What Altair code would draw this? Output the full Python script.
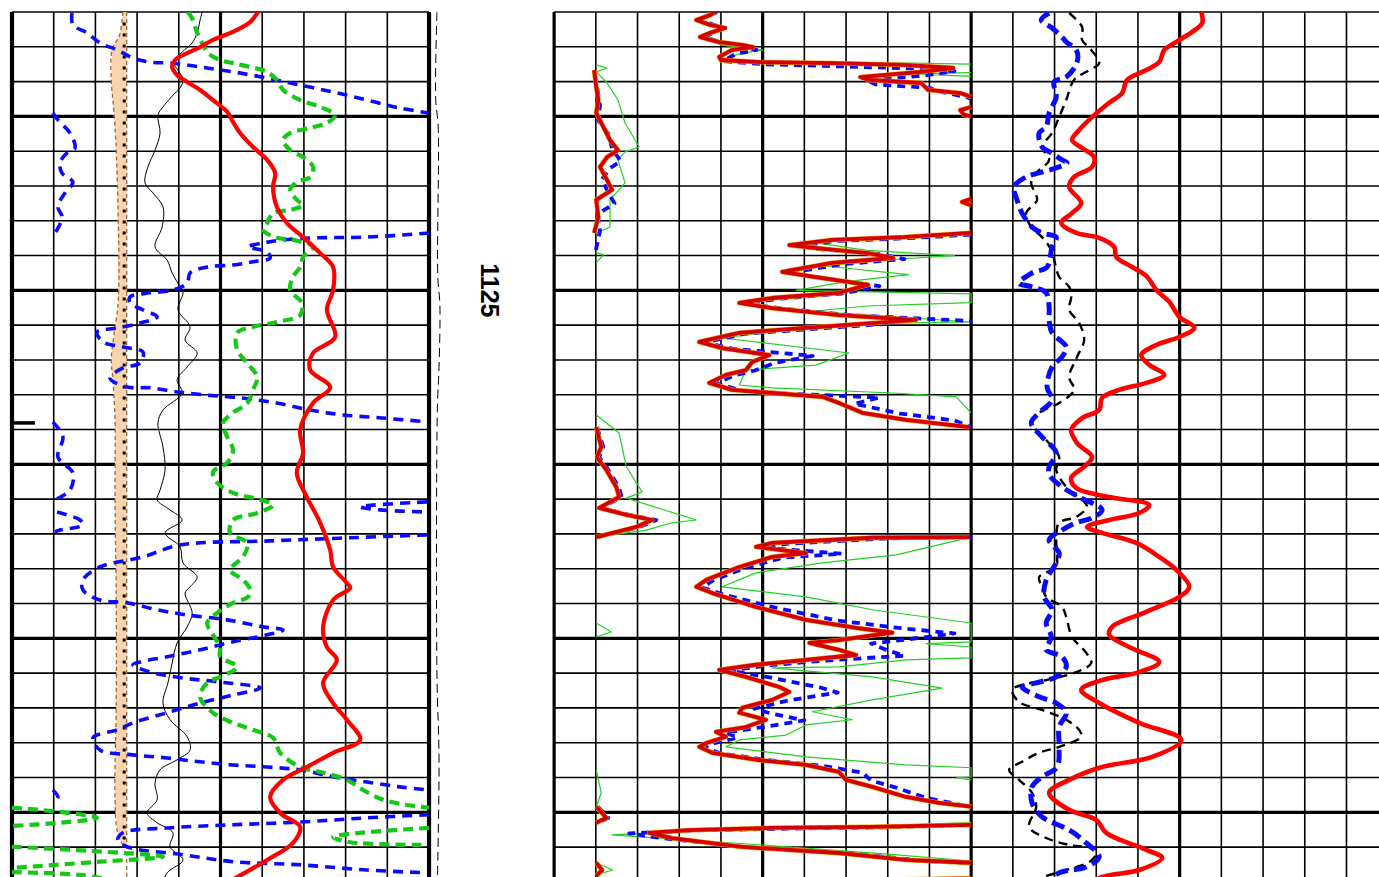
import altair as alt
import pandas as pd

# ---------------- layout in grid units (each track = 10 divisions) ----------------
OFF_T1, OFF_T2, OFF_T3 = 0.0, 13.0, 23.0
X_MAX = 32.78
DEPTH_TOP, DEPTH_BOT = 1117.0, 1141.86

# grid positions
T1_LIGHT_X = [1, 2, 3, 4, 6, 7, 8, 9]
T1_HEAVY_X = [0, 10]
T1_MID_X = [5]
T2_LIGHT_X = [14, 15, 16, 17, 19, 20, 21, 22]
T2_HEAVY_X = [13, 18, 23]
T3_LIGHT_X = [24, 25, 26, 27, 29, 30, 31, 32]
T3_HEAVY_X = [28]
DEPTH_LIGHT = [d for d in range(1117, 1142) if d % 5 != 0]
DEPTH_HEAVY = [1120, 1125, 1130, 1135, 1140]
DEPTH_LABELS = [1125]

# ---------------- track 1 curves (depth, value 0-10) ----------------
T1_RED = [[(1117.00, 5.90), (1117.29, 5.71), (1117.57, 5.30), (1117.80, 4.82), (1118.01, 4.51),
           (1118.18, 4.20), (1118.38, 3.91), (1118.58, 3.84), (1118.81, 3.96), (1119.01, 4.20),
           (1119.24, 4.51), (1119.53, 4.82), (1119.87, 5.16), (1120.16, 5.30), (1120.48, 5.47),
           (1120.88, 5.78), (1121.25, 6.12), (1121.63, 6.31), (1122.03, 6.26), (1122.60, 6.35),
           (1123.06, 6.59), (1123.47, 6.98), (1123.93, 7.39), (1124.33, 7.70), (1124.99, 7.70),
           (1125.56, 7.55), (1126.34, 7.75), (1126.80, 7.22), (1127.29, 7.15), (1127.78, 7.63),
           (1128.24, 7.22), (1129.01, 6.91), (1129.67, 6.98), (1130.25, 6.83), (1130.94, 7.07),
           (1131.68, 7.39), (1132.46, 7.63), (1132.95, 7.70), (1133.41, 8.03), (1133.55, 8.11),
           (1133.90, 7.70), (1134.67, 7.46), (1135.25, 7.55), (1135.62, 7.79), (1136.28, 7.46),
           (1136.86, 7.70), (1137.34, 8.03), (1137.92, 8.35), (1138.29, 7.70), (1138.70, 7.07),
           (1139.07, 6.50), (1139.56, 6.19), (1140.02, 6.43), (1140.42, 6.91), (1140.88, 6.74),
           (1141.37, 6.12), (1141.86, 5.40), (1142.29, 4.75)]]

T1_GREEN = [
    [(1117.00, 4.22), (1117.23, 4.34), (1117.60, 4.44), (1117.89, 4.56), (1118.18, 4.70),
     (1118.38, 4.99), (1118.47, 5.30), (1118.58, 5.71), (1118.72, 6.12), (1118.95, 6.35),
     (1119.24, 6.50), (1119.53, 6.91), (1119.73, 7.39), (1119.96, 7.75), (1120.19, 7.55),
     (1120.33, 7.15), (1120.48, 6.67), (1120.68, 6.50), (1120.97, 6.67), (1121.17, 6.98),
     (1121.45, 7.22), (1121.74, 7.15), (1121.89, 6.83), (1122.11, 6.67), (1122.40, 6.83),
     (1122.55, 6.98), (1122.69, 6.67), (1122.78, 6.26), (1123.06, 6.12), (1123.26, 6.02),
     (1123.49, 6.35), (1123.55, 6.74), (1123.75, 7.22), (1124.04, 6.98), (1124.33, 6.91),
     (1124.61, 6.74), (1124.99, 6.67), (1125.36, 6.95), (1125.71, 6.91), (1125.91, 6.35),
     (1126.05, 5.78), (1126.22, 5.40), (1126.71, 5.40), (1127.09, 5.64), (1127.49, 5.88),
     (1127.86, 5.78), (1128.24, 5.64), (1128.52, 5.30), (1128.81, 5.06), (1129.21, 5.16),
     (1129.59, 5.30), (1129.96, 5.16), (1130.22, 4.82), (1130.53, 4.92), (1130.82, 5.30),
     (1131.02, 5.95), (1131.17, 6.26), (1131.40, 5.88), (1131.60, 5.30), (1131.97, 5.23),
     (1132.26, 5.64), (1132.66, 5.54), (1133.03, 5.23), (1133.32, 5.54), (1133.61, 5.71),
     (1133.81, 5.66), (1133.98, 5.30), (1134.27, 4.92), (1134.56, 4.68), (1134.90, 4.82),
     (1135.25, 4.99), (1135.53, 4.99), (1135.82, 5.40), (1136.11, 4.99), (1136.28, 4.68),
     (1136.68, 4.51), (1137.14, 4.82), (1137.43, 5.30), (1137.63, 5.78), (1137.86, 6.26),
     (1138.29, 6.43), (1138.70, 6.91), (1138.84, 7.39), (1139.07, 8.03), (1139.36, 8.42),
     (1139.64, 8.90), (1139.79, 9.47), (1139.87, 10.0)],
    [(1139.87, 0.0), (1139.93, 0.67), (1140.16, 2.04), (1140.30, 1.15), (1140.39, 0.02)],
    [(1140.45, 10.0), (1140.71, 7.70), (1140.86, 8.11), (1140.94, 9.95)],
    [(1140.99, 0.0), (1141.11, 1.87), (1141.28, 3.62), (1141.42, 2.11), (1141.60, 0.0)],
    [(1141.72, 0.0), (1141.80, 1.63), (1141.95, 2.4)],
]

T1_BLUE = [
    [(1117.03, 1.44), (1117.37, 1.46), (1117.60, 1.80), (1117.89, 2.11), (1118.09, 2.52),
     (1118.32, 2.90), (1118.44, 3.31), (1118.47, 3.84), (1118.58, 4.51), (1118.72, 5.30),
     (1118.90, 6.12), (1119.10, 6.91), (1119.30, 7.70), (1119.53, 8.51), (1119.76, 9.30),
     (1119.90, 9.98)],
    [(1119.90, 0.98), (1120.10, 1.10), (1120.48, 1.39), (1120.91, 1.51), (1121.05, 1.32),
     (1121.34, 1.15), (1121.63, 1.20), (1121.89, 1.46), (1122.20, 1.27), (1122.60, 1.10),
     (1122.89, 1.20), (1123.26, 1.08), (1123.38, 1.00)],
    [(1123.35, 10.0), (1123.47, 8.51), (1123.49, 7.31), (1123.55, 6.50), (1123.64, 6.02),
     (1123.75, 5.66), (1123.90, 6.12), (1124.07, 6.19), (1124.18, 5.78), (1124.27, 5.30),
     (1124.33, 4.68), (1124.50, 4.27), (1124.79, 4.20), (1124.99, 3.86), (1125.07, 3.31),
     (1125.19, 2.83), (1125.36, 2.83), (1125.56, 3.14), (1125.76, 3.48), (1125.94, 3.07),
     (1126.08, 2.52), (1126.20, 2.04), (1126.48, 2.18), (1126.63, 2.66), (1126.77, 3.14),
     (1127.09, 3.07), (1127.23, 2.66), (1127.52, 2.35), (1127.78, 2.76), (1127.80, 3.31),
     (1127.92, 3.96), (1128.01, 4.68), (1128.09, 5.47), (1128.24, 6.35), (1128.44, 7.15),
     (1128.58, 7.94), (1128.67, 8.90), (1128.78, 9.95)],
    [(1128.78, 0.98), (1129.21, 1.22), (1129.79, 1.10), (1130.25, 1.46), (1130.74, 1.39),
     (1131.02, 1.03)],
    [(1131.08, 9.95), (1131.22, 8.35), (1131.31, 8.82), (1131.37, 9.95)],
    [(1131.37, 1.08), (1131.60, 1.63), (1131.74, 1.70), (1131.89, 1.15), (1131.94, 1.03)],
    [(1132.03, 9.95), (1132.11, 8.11), (1132.20, 6.19), (1132.32, 4.03), (1132.66, 3.14),
     (1132.95, 2.11), (1133.32, 1.70), (1133.61, 1.70), (1133.90, 2.11), (1133.98, 2.76),
     (1134.18, 3.48), (1134.33, 4.20), (1134.47, 5.16), (1134.67, 6.02), (1134.76, 6.50),
     (1134.90, 6.12), (1135.10, 5.30), (1135.33, 4.51), (1135.53, 3.72), (1135.68, 3.07),
     (1135.76, 2.90), (1135.97, 3.31), (1136.14, 4.10), (1136.25, 4.92), (1136.43, 5.95),
     (1136.63, 5.30), (1136.86, 4.51), (1137.14, 3.72), (1137.43, 2.90), (1137.63, 2.52),
     (1137.86, 1.94), (1138.21, 2.11), (1138.35, 2.90), (1138.44, 3.72), (1138.55, 4.51),
     (1138.64, 5.30), (1138.70, 6.12), (1138.78, 6.91), (1138.98, 7.70), (1139.13, 8.51),
     (1139.27, 9.30), (1139.36, 10.0)],
    [(1139.36, 0.98), (1139.56, 1.10), (1139.70, 1.03)],
    [(1140.07, 10.0), (1140.16, 8.51), (1140.28, 6.91), (1140.36, 5.30), (1140.45, 3.72),
     (1140.59, 2.66), (1140.79, 2.54), (1140.99, 2.76), (1141.22, 4.10), (1141.42, 5.30),
     (1141.51, 6.91), (1141.66, 8.51), (1141.74, 9.95)],
]

T1_BLACK = [[(1117.00, 4.56), (1117.23, 4.51), (1117.60, 4.44), (1117.89, 4.32), (1118.15, 4.08),
             (1118.44, 3.86), (1118.67, 3.98), (1118.95, 4.10), (1119.18, 4.03), (1119.39, 3.86),
             (1119.73, 3.62), (1119.96, 3.50), (1120.48, 3.55), (1120.97, 3.43), (1121.45, 3.26),
             (1121.91, 3.19), (1122.20, 3.38), (1122.60, 3.62), (1123.18, 3.60), (1123.75, 3.43),
             (1124.13, 3.72), (1124.50, 3.84), (1124.90, 4.03), (1125.07, 4.10), (1125.56, 3.98),
             (1126.05, 4.27), (1126.43, 4.15), (1126.80, 4.44), (1127.20, 4.20), (1127.57, 3.96),
             (1127.95, 4.08), (1128.44, 3.62), (1128.81, 3.50), (1129.50, 3.62), (1130.16, 3.67),
             (1130.74, 3.55), (1131.02, 3.48), (1131.31, 3.79), (1131.60, 4.08), (1131.97, 3.67),
             (1132.37, 4.03), (1132.83, 4.10), (1133.24, 4.44), (1133.52, 4.27), (1133.70, 4.15),
             (1134.27, 4.32), (1134.67, 4.20), (1135.13, 3.96), (1135.71, 3.84), (1136.28, 3.74),
             (1136.86, 3.62), (1137.34, 3.79), (1137.83, 4.20), (1138.21, 4.27), (1138.49, 3.96),
             (1138.78, 3.55), (1139.16, 3.43), (1139.64, 3.48), (1140.02, 3.24), (1140.30, 3.48),
             (1140.59, 3.86), (1140.99, 3.79), (1141.37, 4.10), (1141.74, 3.72), (1142.23, 3.55)]]

# sand band: left edge curve, right edge constant
BAND_DEPTH = [1117.00, 1117.66, 1118.09, 1118.95, 1119.82, 1120.97, 1125.28, 1126.14,
              1127.00, 1127.57, 1128.72, 1131.02, 1133.90, 1136.77, 1139.64, 1140.51, 1140.94]
BAND_LEFT = [2.66, 2.58, 2.40, 2.38, 2.44, 2.50, 2.55, 2.46, 2.38, 2.42, 2.47, 2.47, 2.50,
             2.50, 2.47, 2.52, 2.66]
BAND_RIGHT = 2.75

T1_EDGE_DASH = [[(1117.0, 10.19), (1119.5, 10.16), (1120.3, 10.22), (1124.6, 10.21),
                 (1125.4, 10.26), (1127.2, 10.24), (1128.4, 10.20), (1136.0, 10.19),
                 (1138.5, 10.24), (1142.0, 10.20)]]
MARKER_DEPTH = [1128.81]

# ---------------- track 2 curves ----------------
T2_RED = [
    [(1117.00, 3.84), (1117.09, 3.74), (1117.23, 3.41), (1117.37, 3.74), (1117.46, 4.10),
     (1117.60, 3.74), (1117.72, 3.50), (1117.86, 3.93), (1117.95, 4.53), (1118.01, 4.77),
     (1118.09, 4.27), (1118.29, 3.96), (1118.38, 4.00), (1118.44, 4.94), (1118.47, 6.67),
     (1118.52, 8.37), (1118.61, 9.57), (1118.72, 8.80), (1118.87, 7.34), (1118.95, 7.53),
     (1119.04, 8.80), (1119.24, 8.97), (1119.33, 9.74), (1119.44, 10.0)],
    [(1119.73, 10.0), (1119.82, 9.74), (1119.96, 9.83), (1119.99, 10.0)],
    [(1118.67, 0.96), (1119.16, 1.01), (1119.53, 1.06), (1119.90, 1.01), (1120.30, 1.18),
     (1120.68, 1.34), (1120.97, 1.53), (1121.17, 1.27), (1121.45, 1.10), (1121.83, 1.27),
     (1122.11, 1.39), (1122.40, 1.01), (1122.89, 1.06), (1123.35, 0.96)],
    [(1122.37, 10.0), (1122.46, 9.78), (1122.55, 10.0)],
    [(1123.35, 10.0), (1123.47, 8.37), (1123.55, 6.67), (1123.70, 5.64), (1123.78, 6.24),
     (1123.93, 7.53), (1124.07, 8.13), (1124.21, 6.67), (1124.47, 5.47), (1124.61, 6.24),
     (1124.84, 7.53), (1125.07, 6.83), (1125.22, 5.23), (1125.36, 4.44), (1125.51, 5.23),
     (1125.71, 6.83), (1125.85, 8.68), (1125.94, 7.63), (1126.08, 6.04), (1126.22, 4.44),
     (1126.48, 3.48), (1126.66, 4.03), (1126.86, 5.16), (1127.06, 4.75), (1127.29, 4.60),
     (1127.43, 4.12), (1127.66, 3.72), (1127.86, 4.27), (1127.95, 5.23), (1128.06, 6.43),
     (1128.24, 6.83), (1128.52, 7.39), (1128.72, 8.44), (1128.93, 9.95)],
    [(1128.93, 1.01), (1129.50, 1.13), (1129.79, 1.03), (1130.16, 1.25), (1130.65, 1.49),
     (1130.94, 1.56), (1131.25, 1.08), (1131.45, 1.73), (1131.60, 2.35), (1131.80, 1.97),
     (1132.09, 1.01)],
    [(1132.09, 9.95), (1132.11, 7.63), (1132.26, 5.23), (1132.37, 4.84), (1132.55, 6.04),
     (1132.66, 5.23), (1132.95, 4.44), (1133.32, 3.65), (1133.52, 3.41), (1133.70, 3.79),
     (1134.10, 4.84), (1134.47, 6.04), (1134.70, 7.24), (1134.84, 8.11), (1135.05, 6.83),
     (1135.13, 6.12), (1135.33, 6.83), (1135.48, 7.24), (1135.62, 6.04), (1135.76, 4.84),
     (1135.91, 3.96), (1136.11, 4.60), (1136.40, 5.40), (1136.54, 5.64), (1136.77, 5.23),
     (1137.00, 4.51), (1137.14, 4.44), (1137.34, 5.08), (1137.55, 4.60), (1137.69, 3.88),
     (1137.83, 4.12), (1138.01, 3.65), (1138.12, 3.48), (1138.29, 3.79), (1138.49, 4.84),
     (1138.64, 6.04), (1138.84, 6.83), (1139.07, 7.00), (1139.27, 7.63), (1139.56, 8.44),
     (1139.73, 9.23), (1139.84, 10.0)],
    [(1139.84, 1.01), (1140.16, 1.25), (1140.30, 1.01)],
    [(1140.36, 10.0), (1140.42, 7.63), (1140.45, 5.23), (1140.51, 3.24), (1140.59, 2.28),
     (1140.74, 2.83), (1140.99, 4.44), (1141.17, 6.83), (1141.37, 8.44), (1141.45, 10.0)],
    [(1141.45, 1.01), (1141.66, 1.15), (1141.83, 1.01)],
    [(1141.90, 10.0), (1141.95, 7.0)],
]

T2_BLUE = [
    [(1117.00, 3.90), (1117.23, 3.50), (1117.46, 4.05), (1117.72, 3.60), (1117.86, 3.98),
     (1118.01, 4.60), (1118.09, 4.85), (1118.21, 4.35), (1118.41, 4.05), (1118.50, 5.0),
     (1118.56, 6.8), (1118.62, 8.5), (1118.70, 9.6), (1118.82, 8.9), (1118.97, 7.5),
     (1119.08, 7.7), (1119.18, 9.0), (1119.30, 9.3), (1119.45, 9.9), (1119.50, 10.0)],
    [(1118.80, 0.98), (1119.30, 1.05), (1119.70, 1.10), (1120.10, 1.05), (1120.50, 1.30),
     (1120.97, 1.40), (1121.28, 1.60), (1121.48, 1.35), (1121.80, 1.15), (1122.20, 1.30),
     (1122.50, 1.45), (1122.80, 1.05), (1123.30, 1.10), (1123.84, 1.00)],
    [(1123.40, 10.0), (1123.50, 8.5), (1123.58, 6.8), (1123.72, 5.8), (1123.82, 6.4),
     (1123.96, 7.8), (1124.10, 8.4), (1124.25, 6.9), (1124.50, 5.6), (1124.64, 6.4),
     (1124.88, 7.8), (1125.09, 6.9), (1125.24, 5.4), (1125.38, 4.6), (1125.53, 5.5),
     (1125.72, 7.2), (1125.88, 10.0)],
    [(1125.96, 8.0), (1126.10, 6.3), (1126.24, 4.6), (1126.50, 3.6), (1126.68, 4.3),
     (1126.88, 6.2), (1127.08, 5.3), (1127.31, 4.8), (1127.45, 4.3), (1127.68, 3.9),
     (1127.88, 4.5), (1127.97, 5.6), (1128.08, 7.8), (1128.26, 7.2), (1128.54, 8.3),
     (1128.74, 9.6), (1128.93, 10.0)],
    [(1128.93, 1.03), (1129.50, 1.18), (1129.79, 1.08), (1130.16, 1.30), (1130.65, 1.55),
     (1130.94, 1.62), (1131.25, 1.12), (1131.45, 1.80), (1131.60, 2.45), (1131.80, 2.05),
     (1132.09, 1.05)],
    [(1132.09, 10.0), (1132.13, 8.0), (1132.28, 5.6), (1132.39, 5.0), (1132.57, 6.9),
     (1132.68, 5.5), (1132.97, 4.6), (1133.34, 3.8), (1133.54, 3.55), (1133.72, 4.0),
     (1134.12, 5.3), (1134.49, 6.8), (1134.72, 8.4), (1134.86, 9.6), (1135.07, 8.2),
     (1135.15, 7.6), (1135.35, 8.0), (1135.50, 8.4), (1135.64, 6.5), (1135.78, 5.1),
     (1135.93, 4.2), (1136.13, 5.2), (1136.42, 6.4), (1136.56, 6.8), (1136.79, 5.6),
     (1137.02, 4.8), (1137.16, 5.2), (1137.36, 6.0), (1137.57, 4.9), (1137.71, 4.1),
     (1137.85, 4.4), (1138.03, 3.8), (1138.14, 3.6), (1138.31, 4.0), (1138.51, 5.2),
     (1138.66, 6.4), (1138.86, 7.4), (1139.09, 7.6), (1139.29, 8.2), (1139.58, 8.9),
     (1139.75, 9.6), (1139.86, 10.0)],
    [(1139.84, 1.05), (1140.16, 1.30), (1140.30, 1.05)],
    [(1140.36, 10.0), (1140.43, 8.0), (1140.47, 5.6), (1140.53, 3.0), (1140.61, 1.8),
     (1140.76, 2.7), (1141.01, 4.7), (1141.19, 7.2), (1141.39, 8.8), (1141.47, 10.0)],
]

T2_GREEN = [
    [(1117.00, 3.90), (1117.23, 3.45), (1117.46, 4.00), (1117.72, 3.55), (1117.95, 4.00),
     (1118.09, 5.00), (1118.21, 4.40), (1118.41, 4.10), (1118.44, 6.00), (1118.47, 8.50),
     (1118.50, 10.0)],
    [(1118.74, 10.0), (1118.78, 8.6), (1118.85, 10.0)],
    [(1118.52, 1.01), (1118.61, 1.27), (1118.72, 1.01), (1119.04, 1.27), (1119.53, 1.53),
     (1120.19, 1.70), (1120.88, 2.04), (1121.02, 1.70), (1121.25, 1.53), (1121.91, 1.70),
     (1122.40, 1.34), (1123.18, 1.34), (1123.35, 1.01)],
    [(1123.90, 1.00), (1123.98, 1.18), (1124.21, 1.01)],
    [(1123.40, 10.0), (1123.50, 8.0), (1123.62, 6.2), (1123.85, 7.5), (1124.00, 9.6),
     (1124.12, 8.0), (1124.30, 6.5), (1124.55, 8.5), (1124.75, 7.0), (1125.00, 5.8),
     (1125.05, 8.0), (1125.10, 10.0), (1125.35, 10.0), (1125.45, 7.5), (1125.60, 6.2),
     (1125.75, 8.0), (1125.91, 10.0), (1125.94, 8.0), (1126.08, 6.0), (1126.37, 4.03),
     (1126.80, 7.07), (1127.15, 6.28), (1127.29, 4.60), (1127.72, 4.44), (1127.80, 5.23),
     (1127.95, 8.11), (1128.06, 9.64), (1128.52, 10.0)],
    [(1128.58, 1.01), (1129.10, 1.56), (1130.07, 1.73), (1130.79, 2.11), (1130.97, 1.73),
     (1131.60, 3.41), (1131.68, 2.83), (1131.89, 2.21), (1132.09, 1.01)],
    [(1132.09, 10.0), (1132.60, 8.20), (1132.83, 6.43), (1133.12, 4.84), (1133.52, 4.03),
     (1133.81, 6.04), (1134.18, 7.63), (1134.56, 10.0), (1135.10, 10.0), (1135.15, 8.92),
     (1135.25, 10.0), (1135.56, 10.0), (1135.62, 8.44), (1135.82, 6.83), (1135.85, 5.23),
     (1136.11, 7.63), (1136.43, 9.30), (1136.77, 7.63), (1137.11, 6.19), (1137.34, 7.15),
     (1137.49, 6.04), (1137.78, 5.56), (1137.92, 4.44), (1138.12, 4.12), (1138.41, 6.04),
     (1138.64, 8.44), (1138.72, 10.0), (1138.98, 10.0), (1139.01, 9.64), (1139.07, 10.0)],
    [(1140.30, 10.0), (1140.42, 7.0), (1140.55, 3.0), (1140.65, 1.39), (1140.74, 2.5),
     (1140.94, 5.0), (1141.20, 8.0), (1141.40, 10.0)],
    [(1134.56, 1.01), (1134.82, 1.37), (1134.96, 1.01)],
    [(1138.78, 1.01), (1139.44, 1.13), (1139.84, 1.01)],
    [(1141.45, 1.01), (1141.66, 1.40), (1141.80, 1.01)],
]

# ---------------- track 3 curves ----------------
T3_RED = [[(1117.00, 5.52), (1117.32, 5.54), (1117.57, 5.30), (1117.86, 4.92), (1118.09, 4.63),
           (1118.44, 4.51), (1118.67, 4.20), (1118.95, 3.74), (1119.33, 3.62), (1119.61, 3.31),
           (1120.02, 2.90), (1120.39, 2.59), (1120.68, 2.42), (1120.91, 2.66), (1121.17, 2.95),
           (1121.45, 2.90), (1121.74, 2.47), (1122.03, 2.35), (1122.49, 2.64), (1122.78, 2.42),
           (1123.06, 2.16), (1123.35, 2.52), (1123.49, 3.07), (1123.75, 3.43), (1124.04, 3.48),
           (1124.33, 3.86), (1124.61, 4.22), (1124.99, 4.44), (1125.33, 4.75), (1125.76, 4.99),
           (1126.08, 5.35), (1126.34, 4.99), (1126.57, 4.44), (1126.86, 4.08), (1127.14, 4.27),
           (1127.43, 4.63), (1127.66, 4.20), (1127.86, 3.55), (1128.09, 3.14), (1128.44, 3.07),
           (1128.67, 2.66), (1129.01, 2.40), (1129.39, 2.54), (1129.79, 2.90), (1130.07, 2.71),
           (1130.39, 2.40), (1130.68, 2.52), (1130.94, 3.31), (1131.17, 4.27), (1131.40, 4.03),
           (1131.60, 3.31), (1131.80, 2.78), (1131.97, 3.14), (1132.26, 3.96), (1132.66, 4.51),
           (1133.03, 4.92), (1133.52, 5.23), (1133.81, 4.99), (1134.24, 4.20), (1134.67, 3.38),
           (1134.90, 3.31), (1135.25, 3.79), (1135.68, 4.51), (1135.97, 4.03), (1136.20, 3.14),
           (1136.48, 2.64), (1136.86, 3.07), (1137.43, 4.03), (1137.92, 5.04), (1138.41, 4.34),
           (1138.70, 3.14), (1139.07, 2.35), (1139.44, 1.87), (1139.93, 2.35), (1140.22, 3.00),
           (1140.59, 3.24), (1141.08, 4.20), (1141.31, 4.58), (1141.66, 4.03), (1141.86, 3.14),
           (1142.23, 2.59)]]

T3_BLUE = [[(1117.03, 1.87), (1117.23, 1.68), (1117.46, 1.94), (1117.72, 2.18), (1117.86, 2.28),
            (1118.09, 2.52), (1118.44, 2.54), (1118.87, 2.28), (1119.01, 1.99), (1119.44, 2.04),
            (1119.90, 1.87), (1120.30, 1.80), (1120.48, 1.63), (1120.88, 1.70), (1121.05, 1.92),
            (1121.25, 2.18), (1121.34, 2.30), (1121.48, 2.04), (1121.60, 1.70), (1121.74, 1.32),
            (1122.03, 1.03), (1122.40, 1.10), (1122.78, 1.22), (1123.18, 1.46), (1123.35, 1.70),
            (1123.47, 2.04), (1123.75, 1.94), (1124.33, 1.82), (1124.50, 1.46), (1124.79, 1.15),
            (1124.90, 1.46), (1125.07, 1.80), (1125.48, 1.87), (1125.85, 1.87), (1126.22, 1.94),
            (1126.63, 2.28), (1126.91, 2.18), (1127.20, 1.94), (1127.78, 1.82), (1128.15, 1.94),
            (1128.52, 1.63), (1128.81, 1.44), (1129.21, 1.70), (1129.67, 2.04), (1130.07, 1.87),
            (1130.30, 1.87), (1130.65, 2.18), (1130.94, 2.59), (1131.31, 3.14), (1131.54, 2.90),
            (1131.68, 2.52), (1131.89, 2.18), (1132.17, 1.87), (1132.55, 2.11), (1132.83, 2.04),
            (1133.32, 1.80), (1133.81, 1.75), (1134.18, 1.94), (1134.56, 1.80), (1134.96, 1.92),
            (1135.33, 1.80), (1135.53, 2.18), (1135.82, 2.28), (1136.11, 2.04), (1136.28, 1.56),
            (1136.40, 1.22), (1136.68, 1.63), (1136.86, 2.04), (1137.14, 2.28), (1137.55, 2.11),
            (1138.12, 2.11), (1138.70, 2.06), (1138.98, 1.70), (1139.27, 1.46), (1139.73, 1.46),
            (1140.13, 1.70), (1140.51, 2.35), (1140.88, 2.76), (1141.28, 3.07), (1141.57, 2.76),
            (1141.74, 2.11), (1142.09, 1.75)]]

T3_BLACK = [[(1117.03, 2.35), (1117.43, 2.66), (1117.80, 2.66), (1118.09, 2.88), (1118.47, 3.07),
             (1118.67, 2.83), (1118.95, 2.47), (1119.53, 2.28), (1120.02, 2.11), (1120.48, 1.94),
             (1120.88, 1.70), (1121.25, 1.87), (1121.63, 1.56), (1121.91, 1.44), (1122.40, 1.58),
             (1122.78, 1.32), (1123.18, 1.44), (1123.47, 1.70), (1123.84, 1.92), (1124.61, 2.11),
             (1124.90, 2.35), (1125.19, 2.40), (1125.56, 2.35), (1125.94, 2.59), (1126.43, 2.71),
             (1126.91, 2.54), (1127.49, 2.35), (1127.86, 2.47), (1128.24, 2.11), (1128.52, 1.63),
             (1128.81, 1.46), (1129.30, 1.80), (1129.79, 2.11), (1130.16, 2.04), (1130.74, 2.35),
             (1131.02, 2.66), (1131.22, 2.78), (1131.51, 2.52), (1131.68, 2.11), (1132.09, 2.04),
             (1132.66, 2.06), (1132.95, 2.04), (1133.24, 1.63), (1133.52, 1.70), (1133.81, 1.80),
             (1134.10, 2.18), (1134.39, 2.28), (1134.96, 2.42), (1135.42, 2.76), (1135.71, 2.88),
             (1135.97, 2.52), (1136.20, 1.80), (1136.34, 1.22), (1136.48, 0.98), (1136.83, 1.15),
             (1137.06, 1.70), (1137.34, 2.28), (1137.63, 2.59), (1137.83, 2.64), (1138.12, 2.11),
             (1138.29, 1.63), (1138.55, 1.22), (1138.78, 0.91), (1139.07, 1.15), (1139.44, 1.46),
             (1139.84, 1.56), (1140.42, 1.39), (1140.74, 1.80), (1140.94, 2.35), (1141.08, 3.00),
             (1141.37, 2.90), (1141.66, 2.28), (1141.86, 1.70)]]


# ---------------- helpers ----------------
def frame(segments, offset):
    rows = []
    for s, seg in enumerate(segments):
        for i, (d, v) in enumerate(seg):
            rows.append({"seg": s, "i": i, "depth": d, "x": v + offset})
    return pd.DataFrame(rows)


XS = alt.Scale(domain=[0, X_MAX], nice=False, zero=False)
YS = alt.Scale(domain=[DEPTH_TOP, DEPTH_BOT], reverse=True, nice=False, zero=False)
X = alt.X("x:Q", scale=XS, axis=None)
Y = alt.Y("depth:Q", scale=YS, axis=None)


def curve(segments, offset, color, width, dash=None, smooth=False, opacity=1.0):
    kw = dict(color=color, strokeWidth=width, clip=True, strokeJoin="round",
              strokeCap="butt", opacity=opacity)
    if dash:
        kw["strokeDash"] = dash
    if smooth:
        kw["interpolate"] = "catmull-rom"
    return alt.Chart(frame(segments, offset)).mark_line(**kw).encode(
        x=X, y=Y, detail="seg:N", order="i:Q")


def vrules(xs, width):
    return alt.Chart(pd.DataFrame({"x": xs})).mark_rule(color="black", strokeWidth=width).encode(x=X)


def hrules(depths, width):
    rows = []
    for d in depths:
        rows.append({"depth": d, "x0": 0, "x1": 10})
        rows.append({"depth": d, "x0": 13, "x1": X_MAX})
    return alt.Chart(pd.DataFrame(rows)).mark_rule(color="black", strokeWidth=width).encode(
        y=Y, x=alt.X("x0:Q", scale=XS, axis=None), x2="x1:Q")


light_w, heavy_w = 1.6, 3.2
grid = [
    vrules(T1_LIGHT_X + T2_LIGHT_X + T3_LIGHT_X, light_w),
    hrules(DEPTH_LIGHT, light_w),
    hrules(DEPTH_HEAVY, heavy_w),
    vrules(T1_MID_X + T2_HEAVY_X + T3_HEAVY_X, heavy_w),
    vrules(T1_HEAVY_X, 4.2),
]

band_df = pd.DataFrame({"depth": BAND_DEPTH, "x": BAND_LEFT, "x2": [BAND_RIGHT] * len(BAND_DEPTH)})
band = alt.Chart(band_df).mark_area(orient="horizontal", color="#f7d4ad", clip=True,
                                    interpolate="monotone").encode(y=Y, x=X, x2="x2:Q")
band_left = curve([list(zip(BAND_DEPTH, BAND_LEFT))], OFF_T1, "#9a6a3a", 1.3, [4, 3], smooth=True)
band_right = curve([[(1117.0, BAND_RIGHT), (1142.0, BAND_RIGHT)]], OFF_T1, "#9a6a3a", 1.3, [4, 3])
band_dots = curve([[(1117.3, 2.69), (1140.8, 2.69)]], OFF_T1, "black", 3.0, [3, 8])

marker = alt.Chart(pd.DataFrame({"depth": MARKER_DEPTH, "x0": [0.0], "x1": [0.55]})).mark_rule(
    color="black", strokeWidth=3.5).encode(y=Y, x=alt.X("x0:Q", scale=XS, axis=None), x2="x1:Q")

label = alt.Chart(pd.DataFrame({"depth": DEPTH_LABELS, "x": [11.45],
                                "t": [str(d) for d in DEPTH_LABELS]})).mark_text(
    angle=90, fontSize=25, fontWeight="bold", font="Liberation Sans", color="black",
    align="center", baseline="middle").encode(x=X, y=Y, text="t:N")

layers = grid + [
    band, band_left, band_right, band_dots,
    curve(T1_BLACK, OFF_T1, "black", 1.0, smooth=True),
    curve(T1_EDGE_DASH, OFF_T1, "black", 1.0, [9, 5], smooth=True),
    curve(T1_BLUE, OFF_T1, "#0a0aff", 3.6, [10, 7], smooth=True),
    curve(T1_GREEN, OFF_T1, "#16c816", 4.2, [10, 6], smooth=True),
    curve(T1_RED, OFF_T1, "#ff0000", 4.2, smooth=True),
    curve(T2_GREEN, OFF_T2, "#22d022", 1.2),
    curve(T2_BLUE, OFF_T2, "#0a0aff", 3.8, [8, 6]),
    curve(T2_RED, OFF_T2, "#ff9a00", 4.8),
    curve(T2_RED, OFF_T2, "#d40000", 3.8),
    curve(T3_BLACK, OFF_T3, "black", 2.4, [9, 6], smooth=True),
    curve(T3_BLUE, OFF_T3, "#0a0aff", 5.0, [13, 6], smooth=True),
    curve(T3_RED, OFF_T3, "#ff0000", 4.6, smooth=True),
    marker, label,
]

chart = alt.layer(*layers).properties(
    width=1367, height=865,
    padding={"left": 12, "top": 12, "right": 0, "bottom": 0},
    autosize=alt.AutoSizeParams(type="none"),
).configure_view(stroke=None)

chart.save("out.html", embed_options={"renderer": "svg", "actions": False})
